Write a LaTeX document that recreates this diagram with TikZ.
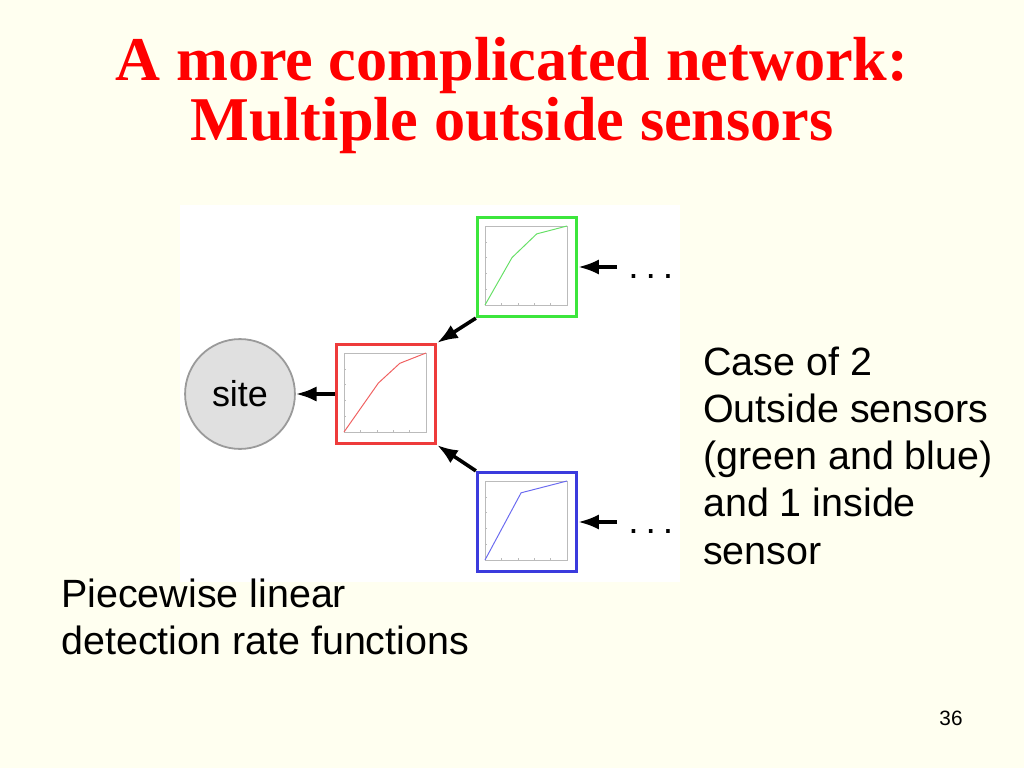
\documentclass[tikz,border=0pt]{standalone}
\usepackage{fontspec}
\setmainfont{Liberation Serif}
\setsansfont{Liberation Sans}
\usetikzlibrary{arrows.meta, positioning, calc}
\definecolor{slidecream}{HTML}{FFFFF0}
\definecolor{titlered}{HTML}{FF0000}
\definecolor{sensorgreen}{HTML}{3CE63C}
\definecolor{sensorred}{HTML}{EE3B3B}
\definecolor{sensorblue}{HTML}{3B3BDD}
\definecolor{curvegreen}{HTML}{66E066}
\definecolor{curvered}{HTML}{F06060}
\definecolor{curveblue}{HTML}{6A6AF0}
\definecolor{plotgray}{HTML}{BBBBBB}
\definecolor{sitefill}{HTML}{E0E0E0}
\definecolor{siteedge}{HTML}{9A9A9A}

\begin{document}
\begin{tikzpicture}[x=0.254mm, y=-0.254mm,
    sensorbox/.style={draw, line width=2.2pt, fill=white, minimum size=25.2mm, inner sep=0pt},
    plotframe/.style={draw=plotgray, line width=0.4pt},
    feed/.style={-{Latex[length=15pt, width=11pt]}, line width=2.6pt, black},
    bodytext/.style={font=\fontsize{28.5}{34}\selectfont\sffamily, align=left, inner sep=0pt, anchor=north west},
    dotstext/.style={font=\fontsize{27}{27}\selectfont\sffamily, inner sep=0pt, anchor=base west}]
  % Slide background
  \fill[slidecream] (0,0) rectangle (1024,768);
  \useasboundingbox (0,0) rectangle (1024,768);

  % Title
  \node[titlered, font=\fontsize{45}{43}\selectfont\bfseries, anchor=base] (title1) at (512,80) {A more complicated network:};
  \node[titlered, font=\fontsize{45}{43}\selectfont\bfseries, anchor=base] (title2) at (512,140) {Multiple outside sensors};

  % White panel behind the network
  \fill[white] (180,205) rectangle (680,582);

  % Site and the three sensors
  \node[circle, draw=siteedge, line width=1.3pt, fill=sitefill, minimum size=27.9mm,
        font=\fontsize{26}{26}\selectfont\sffamily] (site) at (240,394) {site};
  \node[sensorbox, draw=sensorred] (inner) at (386,394) {};
  \node[sensorbox, draw=sensorgreen] (outgreen) at (527,267) {};
  \node[sensorbox, draw=sensorblue] (outblue) at (527,522) {};

  % Detection rate plots inside the boxes
  \foreach \plotnode/\curve/\pts in {outgreen/curvegreen/{(-15,-9.4) -- (9.7,-33.1)},
                                inner/curvered/{(-7.6,-11) -- (13.8,-30.7)},
                                outblue/curveblue/{(-5.9,-29.2)}} {
    \begin{scope}[shift={(\plotnode.center)}]
      \draw[plotframe] (-42,-41) rectangle (40,38);
      \foreach \k in {0,...,5} {
        \draw[plotframe] (-42,{38-79*\k/5}) -- ++(2,0);
        \draw[plotframe] ({-42+82*\k/5},38) -- ++(0,-2);
      }
      \draw[\curve, line width=0.7pt] (-42,38) -- \pts -- (40,-41);
    \end{scope}
  }

  % Connectors
  \draw[feed] (inner) -- (site);
  \draw[feed] (outgreen.south west) -- (inner.north east);
  \draw[feed] (outblue.north west) -- (inner.south east);

  % Inputs from further sensors
  \coordinate (gin) at (617,267);
  \coordinate (bin) at (617,522);
  \draw[feed] (gin) -- (outgreen.east);
  \draw[feed] (bin) -- (outblue.east);
  \node[dotstext] (gdots) at (628,278) {.\hspace{5pt}.\hspace{5pt}.};
  \node[dotstext] (bdots) at (628,533) {.\hspace{5pt}.\hspace{5pt}.};

  % Side notes
  \node[bodytext] (casenote) at (703,347) {Case of 2\\Outside sensors\\(green and blue)\\and 1 inside\\sensor};
  \node[bodytext] (plotnote) at (61,579) {Piecewise linear\\detection rate functions};

  % Page number
  \node[font=\fontsize{15}{15}\selectfont\sffamily, anchor=base] (pagenum) at (951,725) {36};
\end{tikzpicture}
\end{document}
